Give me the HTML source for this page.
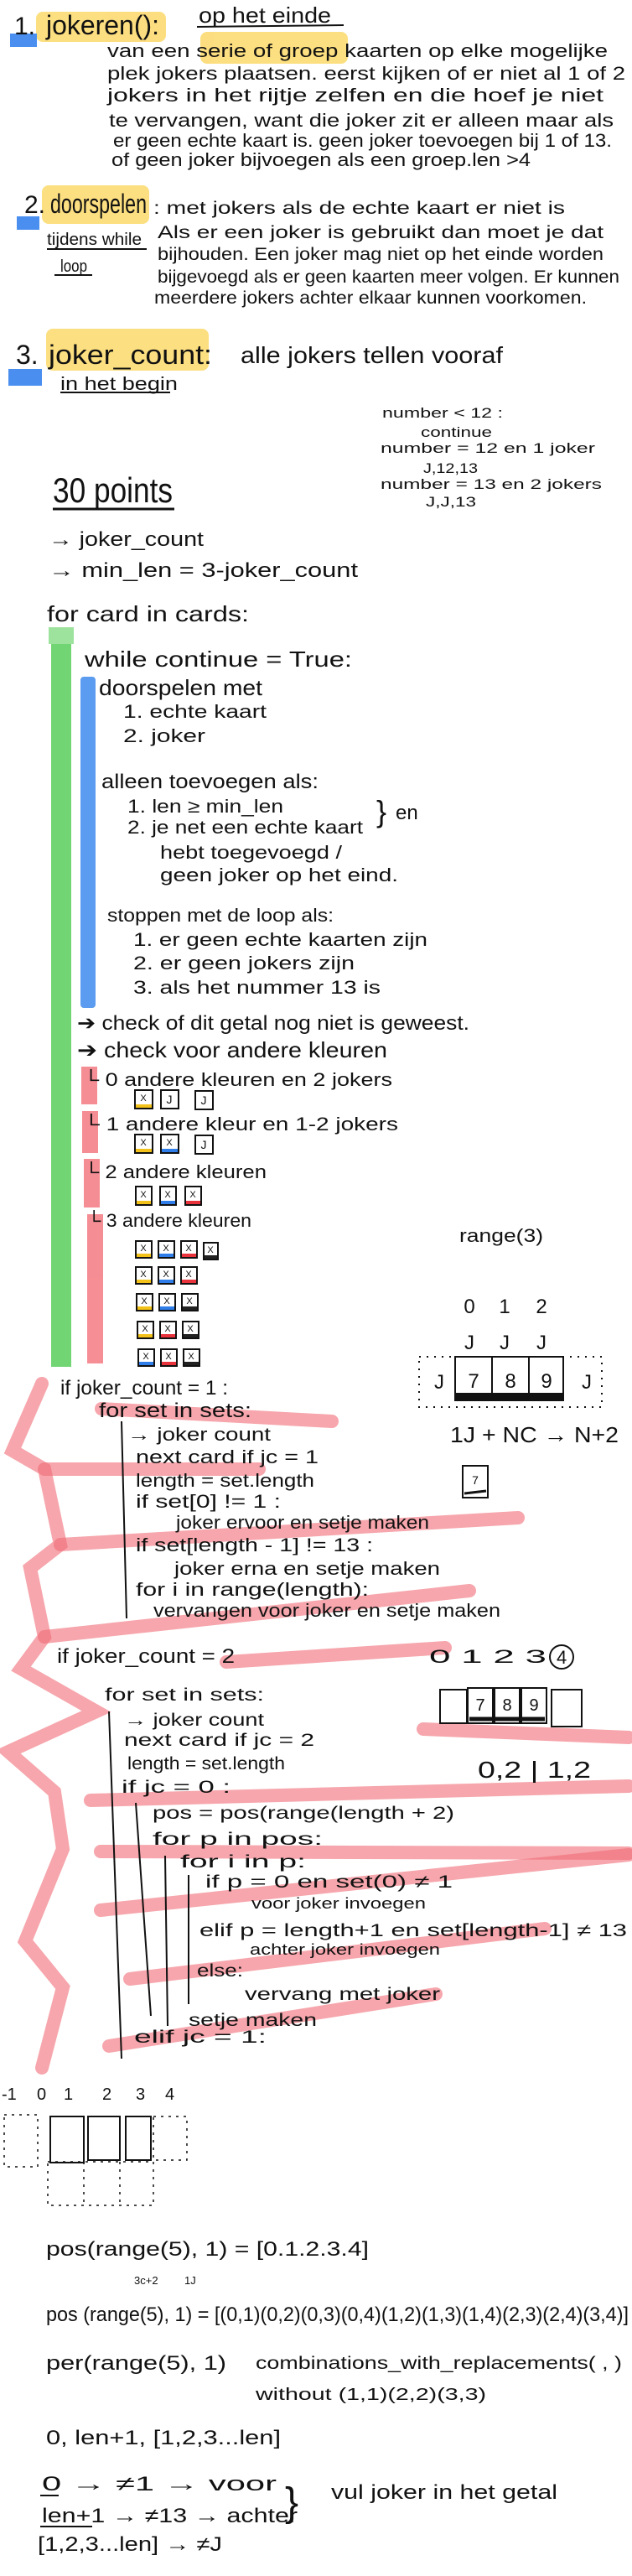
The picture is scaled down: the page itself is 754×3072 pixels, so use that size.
<!DOCTYPE html>
<html><head><meta charset="utf-8"><style>
html,body{margin:0;padding:0;background:#fff}
svg{display:block}
text{font-family:"Liberation Sans",sans-serif;fill:#111}
</style></head><body>
<svg width="754" height="3072" viewBox="0 0 754 3072" xmlns="http://www.w3.org/2000/svg">
<rect width="754" height="3072" fill="#fff"/>
<!-- highlights -->
<g fill="#fcd96a" opacity="0.85">
<rect x="43" y="14" width="155" height="36" rx="8"/>
<rect x="239" y="38" width="176" height="38" rx="8"/>
<rect x="50" y="221" width="128" height="46" rx="8"/>
<rect x="55" y="392" width="194" height="50" rx="8"/>
</g>
<g fill="#4a8ff0">
<rect x="12" y="40" width="32" height="16"/>
<rect x="20" y="258" width="27" height="16"/>
<rect x="10" y="440" width="40" height="20"/>
</g>
<!-- green & blue bars -->
<rect x="61" y="748" width="24" height="882" fill="#72d574"/>
<rect x="58" y="748" width="30" height="20" fill="#9de39e"/>
<rect x="96" y="807" width="18" height="395" rx="4" fill="#5c9cf0"/>
<!-- red small bars -->
<g fill="#f47a82" opacity="0.85">
<rect x="97" y="1272" width="19" height="45"/>
<rect x="98" y="1325" width="19" height="50"/>
<rect x="100" y="1382" width="19" height="58"/>
<rect x="104" y="1448" width="19" height="178"/>
</g>
<!-- red strokes -->
<g stroke="#f06a74" stroke-opacity="0.6" stroke-width="16" stroke-linecap="round" fill="none">
<polyline points="50,1650 15,1730 53,1752 72,1842 36,1870 53,1952 25,1990 115,2041 10,2089 65,2137 75,2205 30,2315 75,2370 50,2466"/>
<line x1="121" y1="1680" x2="396" y2="1695"/>
<line x1="53" y1="1752" x2="309" y2="1752"/>
<line x1="72" y1="1842" x2="618" y2="1810"/>
<line x1="53" y1="1952" x2="560" y2="1897"/>
<line x1="270" y1="1982" x2="531" y2="1965"/>
<line x1="108" y1="2147" x2="750" y2="2130"/>
<line x1="120" y1="2208" x2="750" y2="2210"/>
<line x1="120" y1="2278" x2="750" y2="2212"/>
<line x1="155" y1="2360" x2="650" y2="2300"/>
<line x1="130" y1="2440" x2="520" y2="2378"/>
<line x1="505" y1="2062" x2="750" y2="2072"/>
</g>
<!-- section 1 -->
<text x="17" y="41" font-size="30">1.</text>
<text x="55" y="41" font-size="32" textLength="135" lengthAdjust="spacingAndGlyphs">jokeren():</text>
<text x="237" y="27" font-size="26" textLength="158" lengthAdjust="spacingAndGlyphs">op het einde</text>
<line x1="235" y1="32" x2="410" y2="30" stroke="#111" stroke-width="2"/>
<g font-size="22">
<text x="128" y="68" textLength="597" lengthAdjust="spacingAndGlyphs">van een serie of groep kaarten op elke mogelijke</text>
<text x="128" y="95" textLength="618" lengthAdjust="spacingAndGlyphs">plek jokers plaatsen. eerst kijken of er niet al 1 of 2</text>
<text x="128" y="121" textLength="592" lengthAdjust="spacingAndGlyphs">jokers in het rijtje zelfen en die hoef je niet</text>
<text x="130" y="151" textLength="602" lengthAdjust="spacingAndGlyphs">te vervangen, want die joker zit er alleen maar als</text>
<text x="135" y="175" textLength="595" lengthAdjust="spacingAndGlyphs">er geen echte kaart is. geen joker toevoegen bij 1 of 13.</text>
<text x="133" y="198" textLength="500" lengthAdjust="spacingAndGlyphs">of geen joker bijvoegen als een groep.len &gt;4</text>
</g>
<!-- section 2 -->
<text x="29" y="254" font-size="30">2.</text>
<text x="60" y="254" font-size="32" textLength="115" lengthAdjust="spacingAndGlyphs">doorspelen</text>
<g font-size="21">
<text x="183" y="255" textLength="491" lengthAdjust="spacingAndGlyphs">: met jokers als de echte kaart er niet is</text>
<text x="188" y="284" textLength="532" lengthAdjust="spacingAndGlyphs">Als er een joker is gebruikt dan moet je dat</text>
<text x="188" y="310" textLength="532" lengthAdjust="spacingAndGlyphs">bijhouden. Een joker mag niet op het einde worden</text>
<text x="188" y="337" textLength="551" lengthAdjust="spacingAndGlyphs">bijgevoegd als er geen kaarten meer volgen. Er kunnen</text>
<text x="184" y="362" textLength="516" lengthAdjust="spacingAndGlyphs">meerdere jokers achter elkaar kunnen voorkomen.</text>
</g>
<text x="56" y="292" font-size="20" textLength="113" lengthAdjust="spacingAndGlyphs">tijdens while</text>
<line x1="56" y1="297" x2="175" y2="297" stroke="#111" stroke-width="2"/>
<text x="72" y="324" font-size="20" textLength="32" lengthAdjust="spacingAndGlyphs">loop</text>
<line x1="65" y1="328" x2="110" y2="328" stroke="#111" stroke-width="2"/>
<!-- section 3 -->
<text x="19" y="434" font-size="32">3.</text>
<text x="58" y="434" font-size="32" textLength="195" lengthAdjust="spacingAndGlyphs">joker_count:</text>
<text x="287" y="433" font-size="28" textLength="313" lengthAdjust="spacingAndGlyphs">alle jokers tellen vooraf</text>
<text x="72" y="465" font-size="22" textLength="140" lengthAdjust="spacingAndGlyphs">in het begin</text>
<line x1="72" y1="468" x2="203" y2="468" stroke="#111" stroke-width="2"/>
<!-- right notes -->
<g font-size="17">
<text x="456" y="498" textLength="144" lengthAdjust="spacingAndGlyphs">number &lt; 12 :</text>
<text x="502" y="521" textLength="85" lengthAdjust="spacingAndGlyphs">continue</text>
<text x="454" y="540" textLength="256" lengthAdjust="spacingAndGlyphs">number = 12  en 1 joker</text>
<text x="505" y="564" textLength="65" lengthAdjust="spacingAndGlyphs">J,12,13</text>
<text x="454" y="583" textLength="264" lengthAdjust="spacingAndGlyphs">number = 13  en 2 jokers</text>
<text x="508" y="604" textLength="60" lengthAdjust="spacingAndGlyphs">J,J,13</text>
</g>
<text x="63" y="599" font-size="42" textLength="143" lengthAdjust="spacingAndGlyphs">30 points</text>
<line x1="63" y1="607" x2="208" y2="607" stroke="#111" stroke-width="3"/>
<g font-size="24">
<text x="58" y="651" textLength="185" lengthAdjust="spacingAndGlyphs">→ joker_count</text>
<text x="58" y="688" textLength="369" lengthAdjust="spacingAndGlyphs">→ min_len = 3-joker_count</text>
<text x="56" y="741" font-size="26" textLength="241" lengthAdjust="spacingAndGlyphs">for card in cards:</text>
<text x="101" y="795" font-size="26" textLength="319" lengthAdjust="spacingAndGlyphs">while continue = True:</text>
<text x="118" y="829" font-size="26" textLength="195" lengthAdjust="spacingAndGlyphs">doorspelen met</text>
</g>
<g font-size="22">
<text x="147" y="856" textLength="171" lengthAdjust="spacingAndGlyphs">1. echte kaart</text>
<text x="147" y="885" textLength="98" lengthAdjust="spacingAndGlyphs">2. joker</text>
<text x="121" y="940" font-size="24" textLength="259" lengthAdjust="spacingAndGlyphs">alleen toevoegen als:</text>
<text x="152" y="969" textLength="186" lengthAdjust="spacingAndGlyphs">1. len ≥ min_len</text>
<text x="152" y="994" textLength="281" lengthAdjust="spacingAndGlyphs">2. je net een echte kaart</text>
<text x="191" y="1024" textLength="217" lengthAdjust="spacingAndGlyphs">hebt toegevoegd /</text>
<text x="191" y="1051" textLength="284" lengthAdjust="spacingAndGlyphs">geen joker op het eind.</text>
<text x="449" y="980" font-size="36">}</text>
<text x="472" y="977" font-size="24">en</text>
<text x="128" y="1099" textLength="270" lengthAdjust="spacingAndGlyphs">stoppen met de loop als:</text>
<text x="159" y="1128" textLength="351" lengthAdjust="spacingAndGlyphs">1. er geen echte kaarten zijn</text>
<text x="159" y="1156" textLength="264" lengthAdjust="spacingAndGlyphs">2. er geen jokers zijn</text>
<text x="159" y="1185" textLength="295" lengthAdjust="spacingAndGlyphs">3. als het nummer 13 is</text>
</g>
<g font-size="24">
<text x="92" y="1228" textLength="468" lengthAdjust="spacingAndGlyphs">➔ check of dit getal nog niet is geweest.</text>
<text x="92" y="1261" font-size="26" textLength="370" lengthAdjust="spacingAndGlyphs">➔ check voor andere kleuren</text>
</g>
<g font-size="22">
<text x="99" y="1295" textLength="369" lengthAdjust="spacingAndGlyphs">└ 0 andere kleuren en 2 jokers</text>
<text x="99" y="1348" textLength="376" lengthAdjust="spacingAndGlyphs">└ 1 andere kleur en 1-2 jokers</text>
<text x="100" y="1405" textLength="218" lengthAdjust="spacingAndGlyphs">└ 2 andere kleuren</text>
<text x="104" y="1463" textLength="196" lengthAdjust="spacingAndGlyphs">└ 3 andere kleuren</text>
</g>
<!-- cards -->
<g stroke="#111" stroke-width="2" fill="#fff">
<rect x="161" y="1300" width="21" height="22"/><rect x="192" y="1300" width="21" height="22"/><rect x="233" y="1301" width="21" height="22"/>
<rect x="161" y="1353" width="21" height="22"/><rect x="192" y="1353" width="21" height="22"/><rect x="233" y="1354" width="21" height="22"/>
<rect x="162" y="1415" width="19" height="22"/><rect x="191" y="1415" width="19" height="22"/><rect x="221" y="1415" width="19" height="22"/>
<rect x="162" y="1480" width="19" height="20"/><rect x="189" y="1480" width="19" height="20"/><rect x="216" y="1480" width="19" height="20"/><rect x="243" y="1482" width="17" height="20"/>
<rect x="162" y="1511" width="19" height="20"/><rect x="189" y="1511" width="19" height="20"/><rect x="216" y="1511" width="19" height="20"/>
<rect x="163" y="1543" width="19" height="20"/><rect x="190" y="1543" width="19" height="20"/><rect x="217" y="1543" width="19" height="20"/>
<rect x="164" y="1576" width="19" height="20"/><rect x="191" y="1576" width="19" height="20"/><rect x="218" y="1576" width="19" height="20"/>
<rect x="165" y="1609" width="19" height="20"/><rect x="192" y="1609" width="19" height="20"/><rect x="219" y="1609" width="19" height="20"/>
</g>
<g stroke-width="4">
<line x1="162" y1="1319" x2="181" y2="1319" stroke="#f2c21b"/>
<line x1="162" y1="1372" x2="181" y2="1372" stroke="#f2c21b"/><line x1="193" y1="1372" x2="212" y2="1372" stroke="#2f7de8"/>
<line x1="163" y1="1434" x2="180" y2="1434" stroke="#f2c21b"/><line x1="192" y1="1434" x2="209" y2="1434" stroke="#2f7de8"/><line x1="222" y1="1434" x2="239" y2="1434" stroke="#e8333c"/>
<line x1="163" y1="1497" x2="180" y2="1497" stroke="#f2c21b"/><line x1="190" y1="1497" x2="207" y2="1497" stroke="#2f7de8"/><line x1="217" y1="1497" x2="234" y2="1497" stroke="#e8333c"/><line x1="244" y1="1499" x2="259" y2="1499" stroke="#222"/>
<line x1="163" y1="1528" x2="180" y2="1528" stroke="#f2c21b"/><line x1="190" y1="1528" x2="207" y2="1528" stroke="#2f7de8"/><line x1="217" y1="1528" x2="234" y2="1528" stroke="#e8333c"/>
<line x1="164" y1="1560" x2="181" y2="1560" stroke="#f2c21b"/><line x1="191" y1="1560" x2="208" y2="1560" stroke="#2f7de8"/><line x1="218" y1="1560" x2="235" y2="1560" stroke="#222"/>
<line x1="165" y1="1593" x2="182" y2="1593" stroke="#f2c21b"/><line x1="192" y1="1593" x2="209" y2="1593" stroke="#e8333c"/><line x1="219" y1="1593" x2="236" y2="1593" stroke="#222"/>
<line x1="166" y1="1626" x2="183" y2="1626" stroke="#2f7de8"/><line x1="193" y1="1626" x2="210" y2="1626" stroke="#e8333c"/><line x1="220" y1="1626" x2="237" y2="1626" stroke="#222"/>
</g>
<g font-size="11" text-anchor="middle">
<text x="171" y="1313">X</text><text x="202" y="1316" font-size="14">J</text><text x="243" y="1317" font-size="14">J</text>
<text x="171" y="1366">X</text><text x="202" y="1366">X</text><text x="243" y="1370" font-size="14">J</text>
<text x="171" y="1428">X</text><text x="200" y="1428">X</text><text x="230" y="1428">X</text>
<text x="171" y="1492">X</text><text x="198" y="1492">X</text><text x="225" y="1492">X</text><text x="251" y="1494">X</text>
<text x="171" y="1523">X</text><text x="198" y="1523">X</text><text x="225" y="1523">X</text>
<text x="172" y="1555">X</text><text x="199" y="1555">X</text><text x="226" y="1555">X</text>
<text x="173" y="1588">X</text><text x="200" y="1588">X</text><text x="227" y="1588">X</text>
<text x="174" y="1621">X</text><text x="201" y="1621">X</text><text x="228" y="1621">X</text>
</g>
<!-- range(3) diagram -->
<text x="548" y="1481" font-size="22" textLength="100" lengthAdjust="spacingAndGlyphs">range(3)</text>
<g font-size="24" text-anchor="middle">
<text x="560" y="1566">0</text><text x="602" y="1566">1</text><text x="646" y="1566">2</text>
<text x="560" y="1609">J</text><text x="602" y="1609">J</text><text x="646" y="1609">J</text>
<text x="565" y="1655">7</text><text x="609" y="1655">8</text><text x="652" y="1655">9</text>
<text x="524" y="1656">J</text><text x="700" y="1656">J</text>
</g>
<rect x="500" y="1618" width="218" height="60" fill="none" stroke="#111" stroke-width="2" stroke-dasharray="2 7"/>
<rect x="543" y="1618" width="129" height="52" fill="none" stroke="#111" stroke-width="2"/>
<line x1="587" y1="1618" x2="587" y2="1670" stroke="#111" stroke-width="2"/>
<line x1="631" y1="1618" x2="631" y2="1670" stroke="#111" stroke-width="2"/>
<rect x="544" y="1661" width="128" height="8" fill="#111"/>
<text x="537" y="1720" font-size="26" textLength="201" lengthAdjust="spacingAndGlyphs">1J + NC → N+2</text>
<rect x="552" y="1748" width="30" height="38" fill="none" stroke="#111" stroke-width="2"/>
<text x="567" y="1770" font-size="14" text-anchor="middle">7</text>
<line x1="554" y1="1781" x2="580" y2="1778" stroke="#111" stroke-width="3"/>
<!-- joker_count = 1 -->
<g font-size="22">
<text x="72" y="1663" font-size="24" textLength="200" lengthAdjust="spacingAndGlyphs">if joker_count = 1 :</text>
<text x="118" y="1690" font-size="24" textLength="182" lengthAdjust="spacingAndGlyphs">for set in sets:</text>
<text x="152" y="1718" textLength="171" lengthAdjust="spacingAndGlyphs">→ joker count</text>
<text x="162" y="1745" textLength="218" lengthAdjust="spacingAndGlyphs">next card if jc = 1</text>
<text x="162" y="1773" textLength="213" lengthAdjust="spacingAndGlyphs">length = set.length</text>
<text x="162" y="1798" textLength="173" lengthAdjust="spacingAndGlyphs">if set[0] != 1 :</text>
<text x="210" y="1823" textLength="302" lengthAdjust="spacingAndGlyphs">joker ervoor en setje maken</text>
<text x="162" y="1850" textLength="283" lengthAdjust="spacingAndGlyphs">if set[length - 1] != 13 :</text>
<text x="208" y="1878" textLength="317" lengthAdjust="spacingAndGlyphs">joker erna en setje maken</text>
<text x="162" y="1903" textLength="278" lengthAdjust="spacingAndGlyphs">for i in range(length):</text>
<text x="183" y="1928" textLength="414" lengthAdjust="spacingAndGlyphs">vervangen voor joker en setje maken</text>
</g>
<line x1="145" y1="1695" x2="151" y2="1930" stroke="#111" stroke-width="2"/>
<!-- joker_count = 2 -->
<text x="68" y="1983" font-size="24" textLength="212" lengthAdjust="spacingAndGlyphs">if joker_count = 2</text>
<text x="512" y="1983" font-size="22" textLength="140" lengthAdjust="spacingAndGlyphs">0 1 2 3</text>
<circle cx="670" cy="1976" r="14" fill="none" stroke="#111" stroke-width="2"/>
<text x="664" y="1984" font-size="22">4</text>
<g fill="none" stroke="#111" stroke-width="2">
<rect x="525" y="2015" width="32" height="40"/><rect x="558" y="2013" width="30" height="42"/><rect x="590" y="2013" width="30" height="42"/><rect x="622" y="2013" width="30" height="42"/><rect x="658" y="2015" width="36" height="44"/>
</g>
<line x1="560" y1="2050" x2="650" y2="2050" stroke="#111" stroke-width="5"/>
<g font-size="20" text-anchor="middle"><text x="573" y="2040">7</text><text x="605" y="2040">8</text><text x="637" y="2040">9</text></g>
<text x="570" y="2120" font-size="28" textLength="135" lengthAdjust="spacingAndGlyphs">0,2 | 1,2</text>
<g font-size="21">
<text x="125" y="2028" textLength="190" lengthAdjust="spacingAndGlyphs">for set in sets:</text>
<text x="148" y="2058" textLength="167" lengthAdjust="spacingAndGlyphs">→ joker count</text>
<text x="148" y="2082" textLength="227" lengthAdjust="spacingAndGlyphs">next card if jc = 2</text>
<text x="152" y="2110" textLength="188" lengthAdjust="spacingAndGlyphs">length = set.length</text>
<text x="145" y="2138" textLength="130" lengthAdjust="spacingAndGlyphs">if jc = 0 :</text>
<text x="182" y="2169" textLength="360" lengthAdjust="spacingAndGlyphs">pos = pos(range(length + 2)</text>
<text x="182" y="2200" textLength="203" lengthAdjust="spacingAndGlyphs">for p in pos:</text>
<text x="215" y="2227" textLength="150" lengthAdjust="spacingAndGlyphs">for i in p:</text>
<text x="245" y="2251" textLength="295" lengthAdjust="spacingAndGlyphs">if p = 0 en set(0) ≠ 1</text>
<text x="300" y="2276" font-size="18" textLength="208" lengthAdjust="spacingAndGlyphs">voor joker invoegen</text>
<text x="238" y="2309" textLength="510" lengthAdjust="spacingAndGlyphs">elif  p = length+1 en set[length-1] ≠ 13</text>
<text x="298" y="2331" font-size="18" textLength="227" lengthAdjust="spacingAndGlyphs">achter joker invoegen</text>
<text x="235" y="2357" textLength="55" lengthAdjust="spacingAndGlyphs">else:</text>
<text x="292" y="2385" textLength="233" lengthAdjust="spacingAndGlyphs">vervang met joker</text>
<text x="225" y="2416" textLength="153" lengthAdjust="spacingAndGlyphs">setje maken</text>
<text x="160" y="2436" textLength="158" lengthAdjust="spacingAndGlyphs">elif jc = 1:</text>
</g>
<g stroke="#111" stroke-width="2">
<line x1="130" y1="2041" x2="145" y2="2455"/>
<line x1="162" y1="2150" x2="180" y2="2404"/>
<line x1="197" y1="2213" x2="200" y2="2416"/>
<line x1="225" y1="2236" x2="225" y2="2390"/>
</g>
<!-- -1..4 diagram -->
<g font-size="20">
<text x="2" y="2504">-1</text><text x="44" y="2504">0</text><text x="76" y="2504">1</text><text x="122" y="2504">2</text><text x="162" y="2504">3</text><text x="197" y="2504">4</text>
</g>
<g fill="none" stroke="#111" stroke-width="2">
<rect x="60" y="2524" width="40" height="55"/><rect x="105" y="2524" width="38" height="52"/><rect x="150" y="2524" width="30" height="52"/>
</g>
<g fill="none" stroke="#111" stroke-width="1.5" stroke-dasharray="3 6">
<rect x="5" y="2522" width="40" height="62"/><rect x="183" y="2524" width="40" height="52"/><rect x="57" y="2578" width="126" height="52"/>
<line x1="100" y1="2578" x2="100" y2="2630"/><line x1="143" y1="2578" x2="143" y2="2630"/>
</g>
<!-- bottom formulas -->
<g font-size="24">
<text x="55" y="2690" textLength="385" lengthAdjust="spacingAndGlyphs">pos(range(5), 1) = [0.1.2.3.4]</text>
<text x="160" y="2724" font-size="13">3c+2</text><text x="220" y="2724" font-size="13">1J</text>
<text x="55" y="2768" textLength="695" lengthAdjust="spacingAndGlyphs">pos (range(5), 1) = [(0,1)(0,2)(0,3)(0,4)(1,2)(1,3)(1,4)(2,3)(2,4)(3,4)]</text>
<text x="55" y="2826" textLength="215" lengthAdjust="spacingAndGlyphs">per(range(5), 1)</text>
<text x="305" y="2825" font-size="21" textLength="437" lengthAdjust="spacingAndGlyphs">combinations_with_replacements( , )</text>
<text x="305" y="2862" font-size="20" textLength="275" lengthAdjust="spacingAndGlyphs">without (1,1)(2,2)(3,3)</text>
<text x="55" y="2915" textLength="280" lengthAdjust="spacingAndGlyphs">0, len+1, [1,2,3...len]</text>
<text x="50" y="2970" textLength="280" lengthAdjust="spacingAndGlyphs">0  →  ≠1  →  voor</text>
<text x="50" y="3008" textLength="305" lengthAdjust="spacingAndGlyphs">len+1 → ≠13 → achter</text>
<text x="45" y="3042" textLength="220" lengthAdjust="spacingAndGlyphs">[1,2,3...len] → ≠J</text>
<text x="340" y="3000" font-size="48">}</text>
<text x="395" y="2980" textLength="270" lengthAdjust="spacingAndGlyphs">vul joker in het getal</text>
</g>
<line x1="48" y1="2976" x2="70" y2="2976" stroke="#111" stroke-width="2"/>
<line x1="48" y1="3013" x2="110" y2="3013" stroke="#111" stroke-width="2"/>
</svg>
</body></html>
